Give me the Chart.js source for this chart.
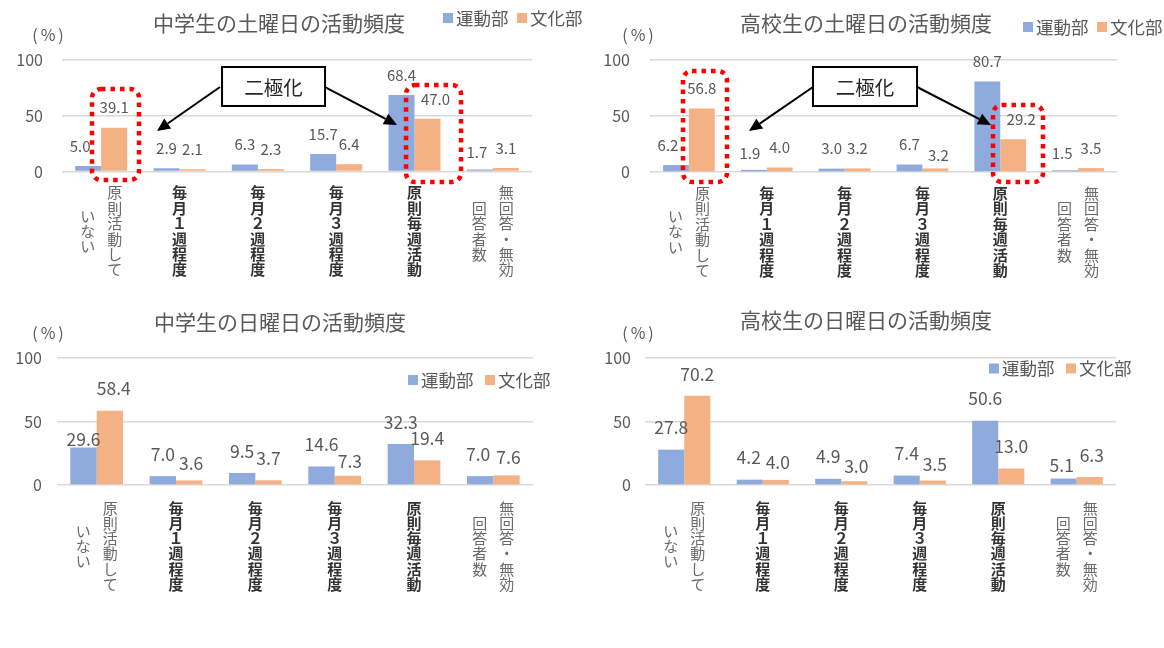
<!DOCTYPE html>
<html><head><meta charset="utf-8">
<script src="https://cdn.jsdelivr.net/npm/chart.js@4.4.1/dist/chart.umd.min.js"></script>
<style>
body{margin:0;background:#fff;width:1164px;height:648px;position:relative;overflow:hidden}
.box{position:absolute}
</style></head><body>
<div class="box" style="left:0;top:0;width:590px;height:300px"><canvas id="c1" width="590" height="300"></canvas></div>
<div class="box" style="left:590px;top:0;width:574px;height:300px"><canvas id="c2" width="574" height="300"></canvas></div>
<div class="box" style="left:0;top:300px;width:590px;height:320px"><canvas id="c3" width="590" height="320"></canvas></div>
<div class="box" style="left:590px;top:300px;width:574px;height:320px"><canvas id="c4" width="574" height="320"></canvas></div>
<script>
// ---- data ----
const categories = ["原則活動していない","毎月１週程度","毎月２週程度","毎月３週程度","原則毎週活動","無回答・無効回答者数"];
const categoryColumns = [["原則活動して","いない"],["毎月１週程度"],["毎月２週程度"],["毎月３週程度"],["原則毎週活動"],["無回答・無効","回答者数"]];
const categoryBold = [false,true,true,true,true,false];
const seriesNames = ["運動部","文化部"];
const yTicks = [0,50,100];
const titles = ["中学生の土曜日の活動頻度","高校生の土曜日の活動頻度","中学生の日曜日の活動頻度","高校生の日曜日の活動頻度"];
const jhSatSports  = [5.0, 2.9, 6.3, 15.7, 68.4, 1.7];
const jhSatCulture = [39.1, 2.1, 2.3, 6.4, 47.0, 3.1];
const hsSatSports  = [6.2, 1.9, 3.0, 6.7, 80.7, 1.5];
const hsSatCulture = [56.8, 4.0, 3.2, 3.2, 29.2, 3.5];
const jhSunSports  = [29.6, 7.0, 9.5, 14.6, 32.3, 7.0];
const jhSunCulture = [58.4, 3.6, 3.7, 7.3, 19.4, 7.6];
const hsSunSports  = [27.8, 4.2, 4.9, 7.4, 50.6, 5.1];
const hsSunCulture = [70.2, 4.0, 3.0, 3.5, 13.0, 6.3];
const annotationText = "二極化";

// ---- style ----
const FF = "'Noto Sans CJK JP','Noto Sans',sans-serif";
const BLUE = '#8faadc', ORANGE = '#f4b183', GRAY = '#595959';

function makeDeco(cfg){
  return {
    id: 'deco',
    afterDatasetsDraw(chart){
      const ctx = chart.ctx;
      ctx.save();
      ctx.font = cfg.labelSize + 'px ' + FF;
      ctx.fillStyle = GRAY; ctx.textAlign = 'center'; ctx.textBaseline = 'middle';
      const nudge = cfg.nudge || {};
      chart.data.datasets.forEach((ds, di) => {
        chart.getDatasetMeta(di).data.forEach((bar, i) => {
          const n = nudge[di + '-' + i] || [0, 0];
          ctx.fillText(ds.data[i].toFixed(1), bar.x + n[0], bar.y - cfg.labelOffset + n[1]);
        });
      });
      ctx.restore();
    },
    afterDraw(chart){
      const ctx = chart.ctx, xs = chart.scales.x, ys = chart.scales.y;
      ctx.save();
      ctx.textAlign = 'center'; ctx.textBaseline = 'middle';
      // title
      ctx.font = '21px ' + FF; ctx.fillStyle = GRAY;
      ctx.fillText(cfg.title, cfg.titleX, cfg.titleY);
      // unit
      ctx.font = '16px ' + FF;
      ctx.letterSpacing = '3px';
      ctx.fillText('(%)', cfg.unitX + 1.5, cfg.unitY);
      ctx.letterSpacing = '0px';
      // legend
      ctx.textAlign = 'left';
      ctx.font = '17.5px ' + FF;
      chart.data.datasets.forEach((ds, di) => {
        const x = cfg.legendX + di * cfg.legendStep;
        ctx.fillStyle = ds.backgroundColor;
        ctx.fillRect(x, cfg.legendY - 5, 10, 10);
        ctx.fillStyle = GRAY;
        ctx.fillText(ds.label, x + 13, cfg.legendY);
      });
      // vertical category labels
      ctx.textAlign = 'center';
      const top = ys.bottom + cfg.catGap;
      const pitch = cfg.pitch;
      categoryColumns.forEach((cols, i) => {
        const cx = xs.getPixelForValue(i);
        ctx.font = (categoryBold[i] ? 'bold ' : '') + '15px ' + FF;
        ctx.fillStyle = categoryBold[i] ? '#333333' : '#6a6a6a';
        const maxLen = Math.max(...cols.map(c => [...c].length));
        cols.forEach((col, k) => {
          const chars = [...col];
          const colX = cols.length === 1 ? cx : cx + (k === 0 ? 13.5 : -13.5);
          const y0 = top + (maxLen - chars.length) * pitch / 2;
          chars.forEach((ch, j) => ctx.fillText(ch, colX, y0 + pitch * (j + 0.5)));
        });
      });
      // annotations (in category/value units)
      if (cfg.anno) {
        const px = v => xs.getPixelForValue(v), py = v => ys.getPixelForValue(v);
        ctx.strokeStyle = '#ff0000'; ctx.lineWidth = 4.5; ctx.setLineDash([4.5, 5]);
        cfg.anno.boxes.forEach(b => {
          const x0 = px(b.x0), x1 = px(b.x1), y0 = py(b.y1), y1 = py(b.y0);
          ctx.beginPath();
          ctx.roundRect(x0, y0, x1 - x0, y1 - y0, 9);
          ctx.stroke();
        });
        ctx.setLineDash([]);
        // arrows
        ctx.strokeStyle = '#000'; ctx.fillStyle = '#000'; ctx.lineWidth = 2;
        cfg.anno.arrows.forEach(a => {
          const x0 = px(a.x0), y0 = py(a.y0), x1 = px(a.x1), y1 = py(a.y1);
          const ang = Math.atan2(y1 - y0, x1 - x0), L = 13, W = 6;
          const bx = x1 - L * Math.cos(ang), by = y1 - L * Math.sin(ang);
          ctx.beginPath(); ctx.moveTo(x0, y0); ctx.lineTo(bx, by); ctx.stroke();
          ctx.beginPath();
          ctx.moveTo(x1, y1);
          ctx.lineTo(bx + W * Math.sin(ang), by - W * Math.cos(ang));
          ctx.lineTo(bx - W * Math.sin(ang), by + W * Math.cos(ang));
          ctx.closePath(); ctx.fill();
        });
        // label box
        const lb = cfg.anno.label;
        const lx0 = px(lb.x0), lx1 = px(lb.x1), ly0 = py(lb.y1), ly1 = py(lb.y0);
        ctx.fillStyle = '#fff'; ctx.fillRect(lx0, ly0, lx1 - lx0, ly1 - ly0);
        ctx.strokeStyle = '#000'; ctx.lineWidth = 2;
        ctx.strokeRect(lx0, ly0, lx1 - lx0, ly1 - ly0);
        ctx.fillStyle = '#262626'; ctx.font = '19.5px ' + FF;
        ctx.textAlign = 'center'; ctx.textBaseline = 'middle';
        ctx.fillText(annotationText, (lx0 + lx1) / 2, (ly0 + ly1) / 2 + 1);
      }
      ctx.restore();
    }
  };
}

function build(id, sports, culture, pad, tickPad, cfg){
  new Chart(document.getElementById(id), {
    type: 'bar',
    data: {
      labels: categories,
      datasets: [
        {label: seriesNames[0], data: sports, backgroundColor: BLUE, categoryPercentage: 0.664, barPercentage: 1.0},
        {label: seriesNames[1], data: culture, backgroundColor: ORANGE, categoryPercentage: 0.664, barPercentage: 1.0}
      ]
    },
    options: {
      responsive: false, animation: false, devicePixelRatio: 1,
      layout: {padding: pad},
      plugins: {legend: {display: false}, title: {display: false}, tooltip: {enabled: false}},
      scales: {
        x: {display: true, grid: {display: false}, border: {display: false}, ticks: {display: false},
            afterFit: s => { s.height = 0; }},
        y: {min: 0, max: 100, afterBuildTicks: s => { s.ticks = yTicks.map(v => ({value: v})); },
            afterFit: s => { s.width = 55; },
            border: {display: false},
            grid: {color: '#d9d9d9', lineWidth: 1.5, drawTicks: false},
            ticks: {padding: tickPad, color: GRAY, font: {family: FF, size: 16}}}
      }
    },
    plugins: [makeDeco(cfg)]
  });
}

build('c1', jhSatSports, jhSatCulture, {left: 7, right: 58, top: 59.5, bottom: 128.5}, 19, {
  title: titles[0], titleX: 279, titleY: 23, unitX: 48, unitY: 35,
  legendX: 443, legendY: 18, legendStep: 74, labelSize: 15, labelOffset: 20, catGap: 13.5, pitch: 15.4,
  nudge: {'0-0': [-8, 0], '1-4': [8, 0], '0-5': [-3, 3]},
  anno: {
    boxes: [{x0: -0.117, x1: 0.483, y0: -7.6, y1: 73.7}, {x0: 3.892, x1: 4.594, y0: -9.4, y1: 77.2}],
    label: {x0: 1.543, x1: 2.858, y0: 58.5, y1: 93.3},
    arrows: [{x0: 1.517, y0: 75.4, x1: 0.713, y1: 36.2}, {x0: 2.858, y0: 75.4, x1: 3.777, y1: 41.5}]
  }
});
build('c2', hsSatSports, hsSatCulture, {left: 5, right: 47, top: 60, bottom: 128}, 20, {
  title: titles[1], titleX: 276, titleY: 23, unitX: 48, unitY: 35,
  legendX: 433, legendY: 27, legendStep: 74, labelSize: 15, labelOffset: 20, catGap: 13.5, pitch: 15.4,
  nudge: {'0-0': [-8, 0], '1-4': [8, 0], '0-1': [-4, 3], '1-3': [3, 7], '0-5': [-3, 3]},
  anno: {
    boxes: [{x0: -0.076, x1: 0.489, y0: -8.9, y1: 90.2}, {x0: 3.907, x1: 4.549, y0: -8.9, y1: 59.8}],
    label: {x0: 1.594, x1: 2.931, y0: 58.9, y1: 93.75},
    arrows: [{x0: 1.594, y0: 75.9, x1: 0.772, y1: 36.6}, {x0: 2.931, y0: 75.9, x1: 3.881, y1: 42.0}]
  }
});
build('c3', jhSunSports, jhSunCulture, {left: 2, right: 57, top: 58, bottom: 135}, 15, {
  title: titles[2], titleX: 280, titleY: 22, unitX: 48, unitY: 33,
  legendX: 408, legendY: 80, legendStep: 77, labelSize: 17.5, labelOffset: 22, catGap: 15.5, pitch: 15.2,
  nudge: {'0-0': [0, 14], '1-0': [4, 0], '1-1': [2, 5], '1-3': [2, 8], '1-5': [2, 4], '0-5': [-2, 0]}
});
build('c4', hsSunSports, hsSunCulture, {left: 0, right: 48, top: 58, bottom: 135}, 14, {
  title: titles[3], titleX: 276, titleY: 20, unitX: 48, unitY: 33,
  legendX: 399, legendY: 68.5, legendStep: 77, labelSize: 17.5, labelOffset: 22, catGap: 15.5, pitch: 15.2,
  nudge: {'0-5': [-2, 9], '1-5': [2, 0], '1-1': [2, 4], '1-2': [2, 7], '1-3': [2, 6], '0-1': [-1, 0]}
});
</script>
</body></html>
